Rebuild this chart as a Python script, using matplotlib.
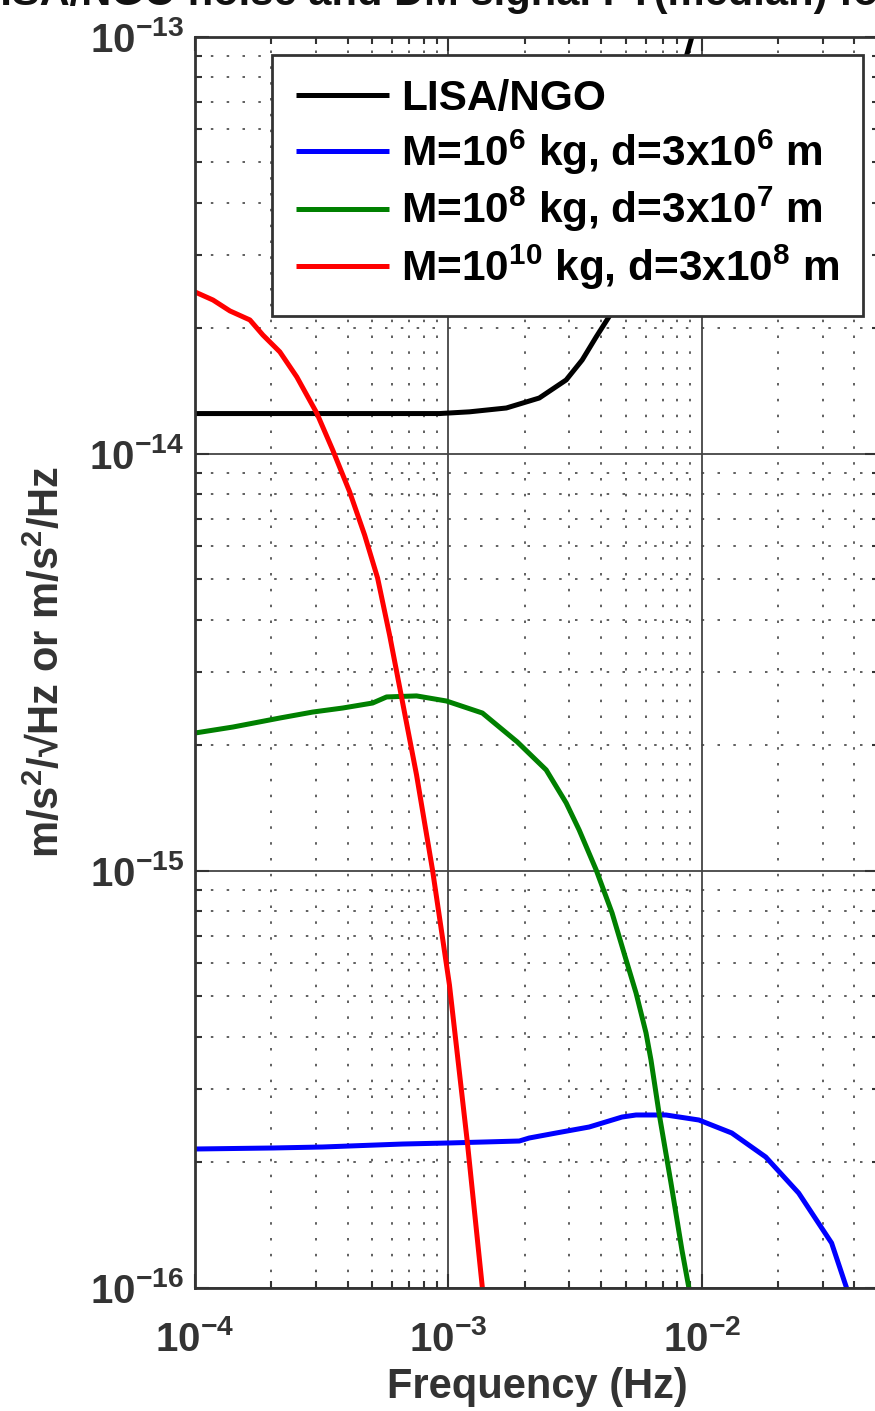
import matplotlib
matplotlib.use('Agg')
import matplotlib.pyplot as plt
from matplotlib.ticker import NullFormatter

# values (frequency in Hz, amplitude in m/s^2/sqrt(Hz))
f_lisa = [1.0e-4, 9.22e-4, 1.211e-3, 1.692e-3, 2.282e-3, 2.914e-3, 3.370e-3, 3.826e-3, 4.422e-3, 6.0e-3, 9.13e-3]
s_lisa = [1.25e-14, 1.25e-14, 1.262e-14, 1.289e-14, 1.362e-14, 1.505e-14, 1.680e-14, 1.908e-14, 2.191e-14, 4.1e-14, 1.0e-13]

f_m6 = [1.0e-4, 2.028e-4, 3.190e-4, 6.590e-4, 1.009e-3, 1.903e-3, 2.084e-3, 2.661e-3, 3.590e-3,
        4.842e-3, 5.497e-3, 7.214e-3, 9.731e-3, 1.312e-2, 1.786e-2, 2.409e-2, 3.249e-2, 3.724e-2]
s_m6 = [2.154e-16, 2.166e-16, 2.178e-16, 2.214e-16, 2.227e-16, 2.251e-16, 2.289e-16, 2.353e-16, 2.432e-16,
        2.570e-16, 2.599e-16, 2.599e-16, 2.528e-16, 2.353e-16, 2.061e-16, 1.689e-16, 1.282e-16, 1.0e-16]

f_m8 = [1.0e-4, 1.411e-4, 2.161e-4, 2.914e-4, 3.826e-4, 5.022e-4, 5.700e-4, 7.482e-4, 9.820e-4, 1.361e-3,
        1.869e-3, 2.430e-3, 2.914e-3, 3.279e-3, 3.826e-3, 4.422e-3, 5.022e-3, 5.497e-3, 6.019e-3, 6.297e-3,
        6.772e-3, 7.551e-3, 8.342e-3, 8.888e-3]
s_m8 = [2.142e-15, 2.214e-15, 2.327e-15, 2.405e-15, 2.459e-15, 2.528e-15, 2.614e-15, 2.629e-15, 2.556e-15, 2.392e-15,
        2.039e-15, 1.747e-15, 1.456e-15, 1.254e-15, 1.006e-15, 7.93e-16, 6.12e-16, 5.10e-16, 4.09e-16, 3.52e-16,
        2.63e-16, 1.786e-16, 1.233e-16, 1.0e-16]

f_m10 = [1.0e-4, 1.177e-4, 1.373e-4, 1.646e-4, 1.852e-4, 2.161e-4, 2.521e-4, 3.021e-4, 3.494e-4, 4.075e-4,
         4.669e-4, 5.253e-4, 5.857e-4, 6.531e-4, 7.482e-4, 8.650e-4, 1.009e-3, 1.188e-3, 1.361e-3]
s_m10 = [2.446e-14, 2.340e-14, 2.203e-14, 2.096e-14, 1.929e-14, 1.757e-14, 1.530e-14, 1.254e-14, 1.022e-14, 8.11e-15,
         6.39e-15, 5.04e-15, 3.68e-15, 2.61e-15, 1.70e-15, 1.006e-15, 5.33e-16, 2.227e-16, 1.0e-16]

labels = ['LISA/NGO',
          r'M=10$^{6}$ kg, d=3x10$^{6}$ m',
          r'M=10$^{8}$ kg, d=3x10$^{7}$ m',
          r'M=10$^{10}$ kg, d=3x10$^{8}$ m']
colors = ['black', '#0000ff', '#008000', '#ff0000']

xticks = [1e-4, 1e-3, 1e-2]
xtick_labels = [r'$10^{-4}$', r'$10^{-3}$', r'$10^{-2}$']
yticks = [1e-16, 1e-15, 1e-14, 1e-13]
ytick_labels = [r'$10^{-16}$', r'$10^{-15}$', r'$10^{-14}$', r'$10^{-13}$']

plt.rcParams['font.family'] = ['Liberation Sans', 'DejaVu Sans']
plt.rcParams['font.weight'] = 'bold'
plt.rcParams['mathtext.fontset'] = 'custom'
plt.rcParams['mathtext.rm'] = 'Liberation Sans:bold'
plt.rcParams['mathtext.it'] = 'Liberation Sans:bold'
plt.rcParams['mathtext.bf'] = 'Liberation Sans:bold'

gray = '#333333'
fig = plt.figure(figsize=(8.75, 14.11), dpi=100)
ax = fig.add_axes([0.2229, 0.0872, 0.7817, 0.8866])

series = [(f_lisa, s_lisa), (f_m6, s_m6), (f_m8, s_m8), (f_m10, s_m10)]
for (f, s), c, lab in zip(series, colors, labels):
    ax.loglog(f, s, color=c, lw=3.6, label=lab, solid_capstyle='butt')

ax.set_xlim(1e-4, 5e-2)
ax.set_ylim(1e-16, 1e-13)
ax.set_xticks(xticks, labels=xtick_labels)
ax.set_yticks(yticks, labels=ytick_labels)
ax.xaxis.set_minor_formatter(NullFormatter())
ax.yaxis.set_minor_formatter(NullFormatter())

ax.set_axisbelow(True)
ax.grid(which='major', ls='-', color='#444444', lw=1.3)
ax.grid(which='minor', ls=(0, (1.5, 8)), color='#444444', lw=1.2)

ax.tick_params(which='both', direction='in', top=True, right=True, colors=gray, width=1.5)
ax.tick_params(which='major', length=10, labelsize=29)
ax.tick_params(axis='x', which='major', pad=23)
ax.tick_params(axis='y', which='major', pad=8)
ax.tick_params(which='minor', length=5)
for sp in ax.spines.values():
    sp.set_color(gray)
    sp.set_linewidth(2)

ax.set_xlabel('Frequency (Hz)', fontsize=30, fontweight='bold', color=gray, labelpad=6)
ax.set_ylabel('m/s$^{2}$/\u221aHz or m/s$^{2}$/Hz', fontsize=30, fontweight='bold', color=gray)
ax.yaxis.set_label_coords(-0.185, 0.5)
ax.set_title('LISA/NGO noise and DM signal FT(median) for two years', fontsize=30,
             fontweight='bold', color='#111111', pad=23)

leg = ax.legend(loc='upper right', bbox_to_anchor=(0.9766, 0.9856), borderaxespad=0,
                fontsize=30.5, frameon=True, fancybox=False, framealpha=1,
                handlelength=2.2, handletextpad=0.28, labelspacing=0.2, borderpad=0.56)
leg.get_frame().set_edgecolor(gray)
leg.get_frame().set_linewidth(2)
for t in leg.get_texts():
    t.set_fontweight('bold')

fig.savefig('out.png', dpi=100)
